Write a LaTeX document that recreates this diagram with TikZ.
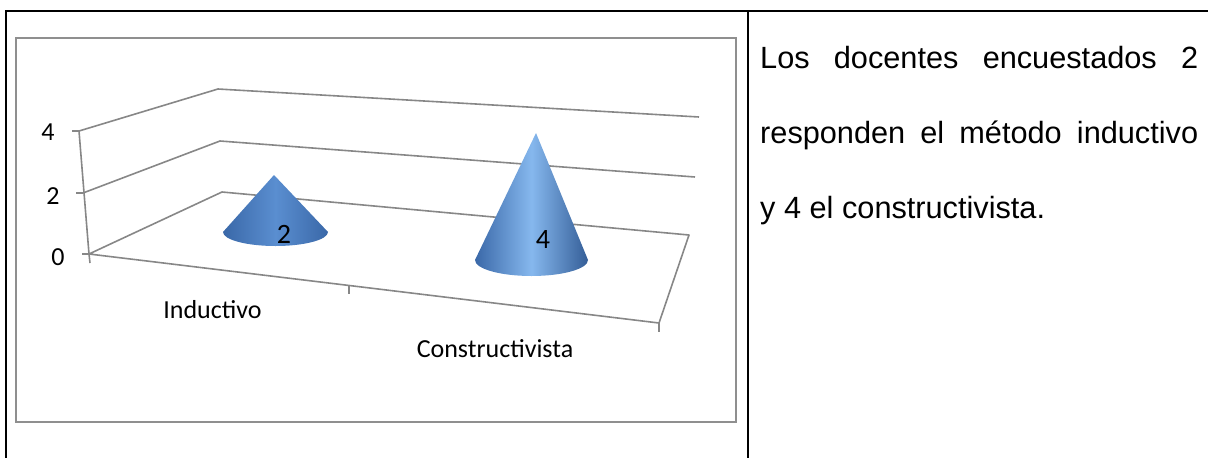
\documentclass[tikz,border=0pt]{standalone}
\usepackage{fontspec}
\setmainfont{Liberation Sans}
\newfontfamily\calibri{Carlito}
\definecolor{axisgray}{HTML}{878787}
\definecolor{framegray}{HTML}{8F8F8F}
\definecolor{coneDark}{HTML}{3A68A8}
\definecolor{coneMid}{HTML}{5A8ED0}
\definecolor{coneLight}{HTML}{86B8EE}
\begin{document}
\begin{tikzpicture}[x=1pt,y=-1pt,
  tbl/.style={line width=2.2pt, black},
  gridl/.style={line width=1.6pt, axisgray, line join=round},
  chartframe/.style={line width=1.6pt, framegray},
  celltext/.style={anchor=base west, inner sep=0pt, font=\fontsize{30.7}{36}\selectfont},
  chartlabel/.style={anchor=base, inner sep=0pt, font=\calibri\fontsize{26}{30}\selectfont},
  conelabel/.style={anchor=base, inner sep=0pt, font=\calibri\fontsize{28}{32}\selectfont}]
\useasboundingbox (0,0) rectangle (1208,458);
% table
\coordinate (tTL) at (6,11);
\coordinate (tTR) at (1208,11);
\coordinate (tBL) at (6,458);
\coordinate (tDT) at (748,11);
\coordinate (tDB) at (748,458);
\draw[tbl] (tBL) -- (tTL) -- (tTR);
\draw[tbl] (tDT) -- (tDB);
% chart frame
\coordinate (fA) at (16,38);
\coordinate (fB) at (736,422);
\draw[chartframe] (fA) rectangle (fB);
% axes / gridlines
\coordinate (w4) at (79,131);
\coordinate (w2) at (83,193);
\coordinate (w0) at (89,254);
\coordinate (b4) at (218,89);
\coordinate (b2) at (220,141);
\coordinate (b0) at (222,192);
\coordinate (r4) at (699,117);
\coordinate (r2) at (695,177);
\coordinate (r0) at (689,235);
\coordinate (fr) at (659,323);
\draw[gridl] (w4) -- (b4) -- (r4);
\draw[gridl] (w2) -- (b2) -- (r2);
\draw[gridl] (w0) -- (b0) -- (r0) -- (fr) -- (w0) -- (w4);
% ticks
\coordinate (t4) at (72,131);
\coordinate (t2) at (76,193);
\coordinate (t0) at (82,254);
\coordinate (t0d) at (90,263);
\coordinate (tm) at (349,286);
\coordinate (tmd) at (349,294);
\coordinate (trd) at (659,332);
\draw[gridl] (t4) -- (w4);
\draw[gridl] (t2) -- (w2);
\draw[gridl] (t0) -- (w0) -- (t0d);
\draw[gridl] (tm) -- (tmd);
\draw[gridl] (fr) -- (trd);
% axis labels
\node[chartlabel] (y4) at (48,140) {4};
\node[chartlabel] (y2) at (53,204) {2};
\node[chartlabel] (y0) at (58,265) {0};
\node[chartlabel] (c1) at (212.5,318) {Inductivo};
\node[chartlabel] (c2) at (495,357) {Constructivista};
% cone 1
\coordinate (a1) at (274,175);
\shade[left color=coneDark, right color=coneDark, middle color=coneMid]
  (a1) -- (223,232) arc[start angle=180, end angle=0, x radius=52.5, y radius=14] -- cycle;
% cone 2
\coordinate (a2) at (536,133);
\shade[left color=coneDark, right color=coneDark!90!black, middle color=coneLight]
  (a2) -- (475,260) arc[start angle=180, end angle=0, x radius=56.5, y radius=16] -- cycle;
\node[conelabel] (v1) at (284,243) {2};
\node[conelabel] (v2) at (543,248) {4};
% cell text
\node[celltext] (l1) at (760,68) {\makebox[438pt][s]{Los docentes encuestados 2}};
\node[celltext] (l2) at (760,143) {\makebox[438pt][s]{responden el método inductivo}};
\node[celltext] (l3) at (760,218) {y 4 el constructivista.};
\end{tikzpicture}
\end{document}
